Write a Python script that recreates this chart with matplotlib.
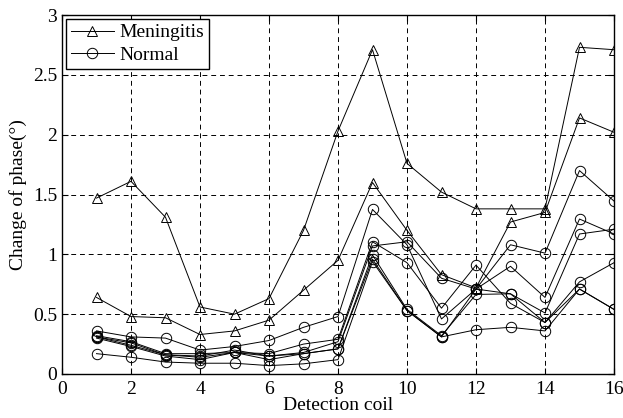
import matplotlib
matplotlib.use("Agg")
import matplotlib.pyplot as plt
import numpy as np

plt.rcParams['font.family'] = ['Liberation Serif', 'DejaVu Serif']
plt.rcParams['mathtext.fontset'] = 'stix'

coils = list(range(1, 17))

meningitis_1 = [1.47, 1.61, 1.31, 0.56, 0.50, 0.63, 1.20, 2.03, 2.71, 1.76, 1.52, 1.38, 1.38, 1.38, 2.73, 2.71]
meningitis_2 = [0.64, 0.48, 0.47, 0.33, 0.36, 0.45, 0.70, 0.95, 1.60, 1.20, 0.83, 0.72, 1.27, 1.35, 2.14, 2.02]

normal_a = [0.36, 0.31, 0.30, 0.20, 0.23, 0.28, 0.39, 0.48, 1.375, 1.08, 0.46, 0.71, 1.08, 1.01, 1.70, 1.445]
normal_b = [0.32, 0.27, 0.17, 0.17, 0.18, 0.17, 0.25, 0.29, 1.105, 0.93, 0.55, 0.91, 0.59, 0.43, 0.77, 0.93]
normal_c = [0.31, 0.26, 0.16, 0.15, 0.20, 0.15, 0.18, 0.27, 1.07, 1.105, 0.80, 0.71, 0.90, 0.64, 1.295, 1.17]
normal_d = [0.31, 0.24, 0.16, 0.14, 0.18, 0.12, 0.17, 0.21, 0.995, 0.54, 0.32, 0.665, 0.67, 0.51, 1.17, 1.21]
normal_e = [0.30, 0.23, 0.15, 0.12, 0.18, 0.15, 0.17, 0.21, 0.96, 0.53, 0.31, 0.71, 0.67, 0.43, 0.71, 0.54]
normal_f = [0.17, 0.14, 0.10, 0.09, 0.09, 0.07, 0.085, 0.12, 0.94, 0.53, 0.31, 0.37, 0.39, 0.36, 0.71, 0.54]

meningitis = [meningitis_1, meningitis_2]
normals = [normal_a, normal_b, normal_c, normal_d, normal_e, normal_f]

xticks = [0, 2, 4, 6, 8, 10, 12, 14, 16]
yticks = [0, 0.5, 1, 1.5, 2, 2.5, 3]
ytick_labels = ["0", "0.5", "1", "1.5", "2", "2.5", "3"]

fig = plt.figure(figsize=(6.23, 4.18), dpi=100)
ax = fig.add_axes([62/623, 1-374/418, (614-62)/623, (374-15)/418])

style = dict(color='black', lw=0.7, mfc='none', mec='black', mew=0.7, ms=7.5)
for i, s in enumerate(meningitis):
    ax.plot(coils, s, marker='^', label='Meningitis' if i == 0 else None, **style)
for i, s in enumerate(normals):
    ax.plot(coils, s, marker='o', label='Normal' if i == 0 else None, **style)

ax.set_xlim(0, 16)
ax.set_ylim(0, 3)
ax.set_xticks(xticks)
ax.set_yticks(yticks)
ax.set_yticklabels(ytick_labels)
ax.tick_params(direction='in', labelsize=14, length=4, top=True, right=True)
ax.tick_params(axis='x', pad=5)
ax.grid(True, color='black', linestyle=(0, (5, 4)), linewidth=0.7)
for sp in ax.spines.values():
    sp.set_linewidth(1.0)

ax.set_xlabel('Detection coil', fontsize=14, labelpad=-1)
ax.set_ylabel('Change of phase(°)', fontsize=14, labelpad=4)

leg = ax.legend(loc='upper left', fontsize=14, frameon=True, fancybox=False,
                edgecolor='black', framealpha=1, borderaxespad=0.2,
                handlelength=2.2, numpoints=1, borderpad=0.25, labelspacing=0.25,
                handletextpad=0.3)
leg.get_frame().set_linewidth(1.0)

fig.savefig('out.png', dpi=100)
